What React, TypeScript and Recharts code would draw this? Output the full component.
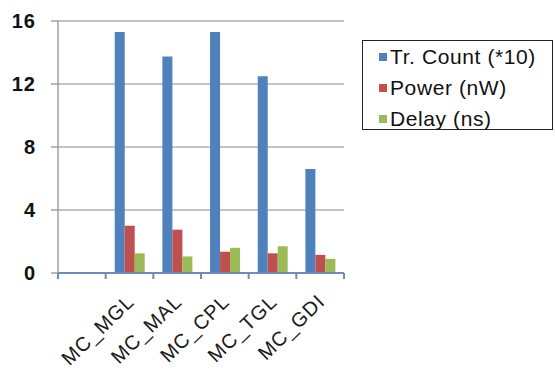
import React from "react";
import {
  Bar,
  BarChart,
  CartesianGrid,
  XAxis,
  YAxis,
} from "recharts";

const categories = ["", "MC_MGL", "MC_MAL", "MC_CPL", "MC_TGL", "MC_GDI"];
const trCount = [null, 15.3, 13.75, 15.3, 12.5, 6.6];
const power = [null, 3.0, 2.75, 1.35, 1.25, 1.15];
const delay = [null, 1.25, 1.05, 1.6, 1.7, 0.9];
const yTicks = [0, 4, 8, 12, 16];

const series = [
  { key: "tr", name: "Tr. Count (*10)", color: "#4F81BD" },
  { key: "power", name: "Power (nW)", color: "#C0504D" },
  { key: "delay", name: "Delay (ns)", color: "#9BBB59" },
];

const data = categories.map((c, i) => ({
  name: c,
  tr: trCount[i],
  power: power[i],
  delay: delay[i],
}));

const FONT = "'Liberation Sans', Arial, sans-serif";
const AXIS = "#6E8DBB";

function XTick(props: any) {
  const { x, y, payload, index, visibleTicksCount } = props;
  const half = payload?.offset ?? 23.8;
  const last = index === visibleTicksCount - 1;
  const tx = x + 6;
  const ty = y + 22;
  return (
    <g>
      <line x1={x - half} y1={y - 8} x2={x - half} y2={y - 2} stroke={AXIS} strokeWidth={2} />
      {last && (
        <line x1={x + half} y1={y - 8} x2={x + half} y2={y - 2} stroke={AXIS} strokeWidth={2} />
      )}
      <text
        x={tx}
        y={ty}
        transform={`rotate(-44 ${tx} ${ty})`}
        textAnchor="end"
        fontFamily={FONT}
        fontSize={20}
        letterSpacing={1}
        fill="#1a1a1a"
      >
        {payload.value}
      </text>
    </g>
  );
}

function YTick(props: any) {
  const { x, y, payload } = props;
  return (
    <text
      x={x - 13}
      y={y + 7}
      textAnchor="end"
      fontFamily={FONT}
      fontWeight="bold"
      fontSize={20}
      letterSpacing={1}
      fill="#111"
    >
      {payload.value}
    </text>
  );
}

function LegendBox() {
  return (
    <div
      style={{
        position: "absolute",
        left: 362,
        top: 40,
        boxSizing: "border-box",
        border: "1.5px solid #222",
        width: 191,
        height: 90,
        padding: "0 0 0 16px",
        fontFamily: FONT,
        fontSize: 21,
        letterSpacing: 0.6,
        color: "#111",
        background: "#fff",
      }}
    >
      {series.map((s) => (
        <div key={s.key} style={{ display: "flex", alignItems: "center", height: 31 }}>
          <span style={{ width: 8, height: 8, background: s.color, marginRight: 3, flexShrink: 0 }} />
          <span style={{ whiteSpace: "pre" }}>{s.name}</span>
        </div>
      ))}
    </div>
  );
}

export default function App() {
  return (
    <div style={{ position: "fixed", left: 0, top: 0, width: 555, height: 376, background: "#fff" }}>
      <BarChart
        width={555}
        height={376}
        data={data}
        margin={{ top: 21, right: 211, left: 0, bottom: 0 }}
        barCategoryGap="19%"
        barGap={0}
      >
        <CartesianGrid horizontal vertical={false} stroke="#8A8A8A" strokeWidth={1.2} />
        <XAxis
          dataKey="name"
          height={103}
          axisLine={{ stroke: AXIS, strokeWidth: 2 }}
          tickLine={false}
          tick={<XTick />}
          interval={0}
        />
        <YAxis
          width={58}
          domain={[0, 16]}
          ticks={yTicks}
          axisLine={{ stroke: "#8A8A8A", strokeWidth: 1.2 }}
          tickLine={{ stroke: "#8A8A8A", strokeWidth: 1.2 }}
          tickSize={7}
          tick={<YTick />}
        />
        {series.map((s) => (
          <Bar key={s.key} dataKey={s.key} name={s.name} fill={s.color} isAnimationActive={false} />
        ))}
      </BarChart>
      <LegendBox />
    </div>
  );
}
